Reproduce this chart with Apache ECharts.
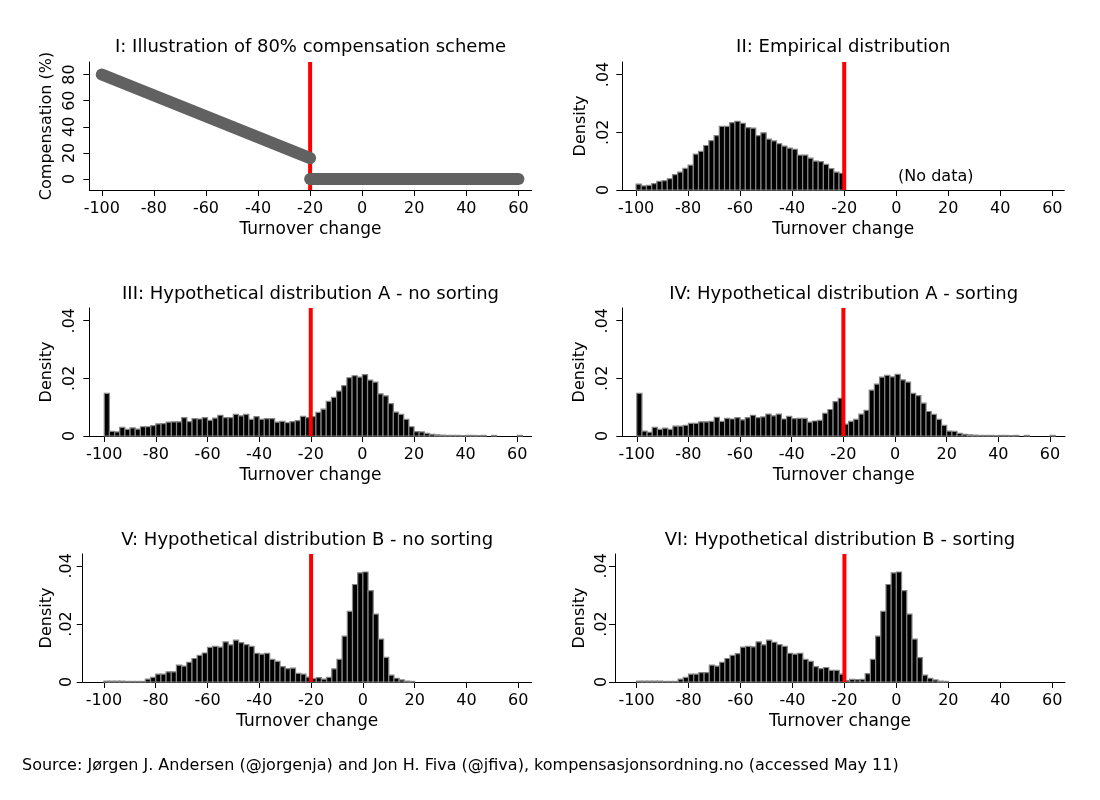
<!DOCTYPE html>
<html>
<head>
<meta charset="utf-8">
<title>Compensation scheme and turnover change</title>
<script src="https://cdn.jsdelivr.net/npm/echarts@6.0.0/dist/echarts.min.js"></script>
<style>
  html, body { margin: 0; padding: 0; background: #fff; }
  #main { width: 1100px; height: 800px; }
</style>
</head>
<body>
<div id="main"></div>
<script>
var FONT = 'DejaVu Sans';
var CUTOFF = -20;
var BIN_WIDTH = 2;

// tick labels
var xTicks = [-100, -80, -60, -40, -20, 0, 20, 40, 60];
var densityTicks = [0, 0.02, 0.04];
var compTicks = [0, 20, 40, 60, 80];

// left edge of every 2-point bin
var binStarts = [
    -100, -98, -96, -94, -92, -90, -88, -86, -84, -82,
    -80, -78, -76, -74, -72, -70, -68, -66, -64, -62,
    -60, -58, -56, -54, -52, -50, -48, -46, -44, -42,
    -40, -38, -36, -34, -32, -30, -28, -26, -24, -22,
    -20, -18, -16, -14, -12, -10, -8, -6, -4, -2,
    0, 2, 4, 6, 8, 10, 12, 14, 16, 18,
    20, 22, 24, 26, 28, 30, 32, 34, 36, 38,
    40, 42, 44, 46, 48, 50, 52, 54, 56, 58,
    60
];

// panel I: the compensation scheme
var schemeX = [-100, -20];
var schemeY = [80, 16];
var noCompX = [-20, 60];
var noCompY = [0, 0];

// panel II: empirical (only below the cutoff)
var empirical = [
    0.0020, 0.0014, 0.0016, 0.0022, 0.0030, 0.0032, 0.0039, 0.0053, 0.0062, 0.0075,
    0.0086, 0.0124, 0.0134, 0.0154, 0.0171, 0.0188, 0.0220, 0.0220, 0.0233, 0.0238,
    0.0231, 0.0216, 0.0214, 0.0188, 0.0198, 0.0176, 0.0170, 0.0160, 0.0152, 0.0145,
    0.0141, 0.0121, 0.0121, 0.0110, 0.0100, 0.0098, 0.0089, 0.0074, 0.0062, 0.0058
];

// panel III: distribution A, no sorting
var distANoSort = [
    0.0148, 0.0016, 0.0014, 0.0030, 0.0023, 0.0028, 0.0024, 0.0032, 0.0032, 0.0036,
    0.0042, 0.0043, 0.0048, 0.0049, 0.0049, 0.0064, 0.0050, 0.0060, 0.0059, 0.0064,
    0.0054, 0.0062, 0.0072, 0.0064, 0.0064, 0.0075, 0.0070, 0.0075, 0.0058, 0.0067,
    0.0058, 0.0060, 0.0060, 0.0048, 0.0051, 0.0046, 0.0050, 0.0053, 0.0068, 0.0064,
    0.0067, 0.0082, 0.0093, 0.0120, 0.0134, 0.0156, 0.0175, 0.0202, 0.0209, 0.0204,
    0.0213, 0.0194, 0.0187, 0.0146, 0.0139, 0.0112, 0.0083, 0.0075, 0.0058, 0.0032,
    0.0015, 0.0014, 0.0009, 0.0006, 0.0004, 0.0003, 0.0002, 0.0002, 0.0002, 0.0001,
    0.0002, 0.0002, 0.0001, 0.0002, 0, 0.0002, 0, 0, 0, 0,
    0.0002
];

// panel IV: distribution A, sorting
var distASort = [
    0.0148, 0.0017, 0.0013, 0.0030, 0.0023, 0.0027, 0.0023, 0.0034, 0.0034, 0.0037,
    0.0044, 0.0044, 0.0049, 0.0049, 0.0051, 0.0065, 0.0051, 0.0061, 0.0059, 0.0064,
    0.0056, 0.0064, 0.0072, 0.0064, 0.0066, 0.0076, 0.0070, 0.0076, 0.0059, 0.0068,
    0.0060, 0.0061, 0.0061, 0.0048, 0.0052, 0.0054, 0.0079, 0.0092, 0.0119, 0.0131,
    0.0041, 0.0051, 0.0058, 0.0076, 0.0089, 0.0159, 0.0180, 0.0204, 0.0210, 0.0205,
    0.0214, 0.0195, 0.0187, 0.0148, 0.0140, 0.0114, 0.0085, 0.0075, 0.0058, 0.0037,
    0.0017, 0.0016, 0.0009, 0.0006, 0.0004, 0.0003, 0.0002, 0.0002, 0.0002, 0.0001,
    0.0002, 0.0002, 0.0001, 0.0002, 0, 0.0002, 0, 0, 0, 0,
    0.0002
];

// panel V: distribution B, no sorting
var distBNoSort = [
    0.0003, 0.0003, 0.0003, 0.0003, 0.0002, 0.0002, 0.0002, 0.0002, 0.0010, 0.0016,
    0.0027, 0.0027, 0.0035, 0.0035, 0.0058, 0.0055, 0.0068, 0.0081, 0.0092, 0.0100,
    0.0119, 0.0123, 0.0120, 0.0138, 0.0128, 0.0144, 0.0136, 0.0129, 0.0123, 0.0099,
    0.0096, 0.0099, 0.0078, 0.0071, 0.0053, 0.0046, 0.0048, 0.0030, 0.0027, 0.0017,
    0.0012, 0.0015, 0.0010, 0.0016, 0.0045, 0.0078, 0.0158, 0.0243, 0.0336, 0.0376,
    0.0379, 0.0315, 0.0234, 0.0148, 0.0085, 0.0024, 0.0013, 0.0007, 0.0003, 0.0002,
    0, 0, 0, 0, 0, 0, 0, 0, 0, 0,
    0, 0, 0, 0, 0, 0, 0, 0, 0, 0,
    0
];

// panel VI: distribution B, sorting
var distBSort = [
    0.0003, 0.0003, 0.0003, 0.0003, 0.0003, 0.0002, 0.0002, 0.0002, 0.0010, 0.0016,
    0.0027, 0.0027, 0.0032, 0.0032, 0.0058, 0.0055, 0.0068, 0.0081, 0.0092, 0.0098,
    0.0120, 0.0123, 0.0121, 0.0138, 0.0128, 0.0144, 0.0137, 0.0129, 0.0123, 0.0099,
    0.0096, 0.0099, 0.0078, 0.0071, 0.0053, 0.0046, 0.0050, 0.0040, 0.0040, 0.0027,
    0.0005, 0.0009, 0.0008, 0.0009, 0.0029, 0.0078, 0.0158, 0.0243, 0.0336, 0.0376,
    0.0379, 0.0315, 0.0234, 0.0148, 0.0084, 0.0024, 0.0013, 0.0007, 0.0003, 0.0002,
    0, 0, 0, 0, 0, 0, 0, 0, 0, 0,
    0, 0, 0, 0, 0, 0, 0, 0, 0, 0,
    0
];

var noDataNote = { text: '(No data)', x: 15.2, y: 0.0046 };

var sourceText = 'Source: J\u00f8rgen J. Andersen (@jorgenja) and Jon H. Fiva (@jfiva), kompensasjonsordning.no (accessed May 11)';

// layout of the six panels
var panels = [
    { title: 'I: Illustration of 80% compensation scheme', box: [89.3, 62, 442.4, 128], titleY: 47,
      xr: [-104.8, 65.1], yr: [-8.4, 89.6], yName: 'Compensation (%)', yTicks: compTicks,
      labelMargin: 11, nameGap: 34, values: null },
    { title: 'II: Empirical distribution', box: [622.3, 62, 442, 128], titleY: 47,
      xr: [-105.3, 64.6], yr: [0, 0.0443], yName: 'Density', yTicks: densityTicks,
      labelMargin: 10, nameGap: 33, values: empirical },
    { title: 'III: Hypothetical distribution A - no sorting', box: [89.3, 308, 442.4, 128], titleY: 294,
      xr: [-105.8, 65.6], yr: [0, 0.0444], yName: 'Density', yTicks: densityTicks,
      labelMargin: 11, nameGap: 34, values: distANoSort },
    { title: 'IV: Hypothetical distribution A - sorting', box: [622.3, 308, 442.7, 128], titleY: 294,
      xr: [-105.6, 65.8], yr: [0, 0.0444], yName: 'Density', yTicks: densityTicks,
      labelMargin: 11, nameGap: 34, values: distASort },
    { title: 'V: Hypothetical distribution B - no sorting', box: [82.7, 554, 449, 128], titleY: 540,
      xr: [-108.2, 65.2], yr: [0, 0.0441], yName: 'Density', yTicks: densityTicks,
      labelMargin: 8, nameGap: 28, values: distBNoSort },
    { title: 'VI: Hypothetical distribution B - sorting', box: [615, 554, 450, 128], titleY: 540,
      xr: [-108.3, 64.9], yr: [0, 0.0441], yName: 'Density', yTicks: densityTicks,
      labelMargin: 5, nameGap: 27, values: distBSort }
];

function densityLabel(v) {
    if (v === 0) return '0';
    return String(+v.toFixed(2)).replace(/^0/, '');
}

function renderBin(params, api) {
    var h = api.value(1);
    if (!h) return null;
    var x0 = api.value(0);
    var top = api.coord([x0, h]);
    var base = api.coord([x0 + BIN_WIDTH, 0]);
    return {
        type: 'rect',
        shape: { x: top[0], y: top[1], width: base[0] - top[0], height: base[1] - top[1] },
        style: { fill: '#000', stroke: '#858585', lineWidth: 1.2 }
    };
}

var option = {
    backgroundColor: '#fff',
    animation: false,
    title: [],
    grid: [],
    xAxis: [],
    yAxis: [],
    series: []
};

panels.forEach(function (p, i) {
    option.title.push({
        text: p.title,
        left: p.box[0] + p.box[2] / 2,
        top: p.titleY - 10,
        textAlign: 'center',
        padding: 0,
        textStyle: { fontFamily: FONT, fontSize: 18, fontWeight: 'normal', color: '#000', lineHeight: 20 }
    });
    option.grid.push({ left: p.box[0], top: p.box[1], width: p.box[2], height: p.box[3], containLabel: false });
    option.xAxis.push({
        type: 'value', gridIndex: i, min: p.xr[0], max: p.xr[1],
        name: 'Turnover change', nameLocation: 'middle', nameGap: 31,
        nameTextStyle: { fontFamily: FONT, fontSize: 17, color: '#000' },
        axisLine: { show: true, onZero: false, lineStyle: { color: '#000', width: 1 } },
        axisTick: { show: true, length: 6, customValues: xTicks, lineStyle: { color: '#000' } },
        axisLabel: { customValues: xTicks, margin: 11, fontFamily: FONT, fontSize: 16, color: '#000' },
        splitLine: { show: false }
    });
    option.yAxis.push({
        type: 'value', gridIndex: i, min: p.yr[0], max: p.yr[1],
        name: p.yName, nameLocation: 'middle', nameGap: p.nameGap,
        nameTextStyle: { fontFamily: FONT, fontSize: 16, color: '#000' },
        axisLine: { show: true, onZero: false, lineStyle: { color: '#000', width: 1 } },
        axisTick: { show: true, length: 6, customValues: p.yTicks, lineStyle: { color: '#000' } },
        axisLabel: {
            customValues: p.yTicks, rotate: 90, margin: p.labelMargin,
            fontFamily: FONT, fontSize: 16, color: '#000',
            formatter: p.values ? densityLabel : '{value}'
        },
        splitLine: { show: false }
    });

    // the red cutoff line
    option.series.push({
        type: 'line', xAxisIndex: i, yAxisIndex: i, silent: true,
        symbol: 'none', z: p.values ? 5 : 1,
        lineStyle: { color: '#ff0000', width: 4 },
        data: [[CUTOFF, p.yr[0]], [CUTOFF, p.yr[1]]]
    });

    if (p.values) {
        option.series.push({
            type: 'custom', xAxisIndex: i, yAxisIndex: i, silent: true, z: 2,
            renderItem: renderBin,
            data: p.values.map(function (v, k) { return [binStarts[k], v]; })
        });
    }
});

// panel I lines
[[schemeX, schemeY], [noCompX, noCompY]].forEach(function (seg) {
    option.series.push({
        type: 'line', xAxisIndex: 0, yAxisIndex: 0, silent: true, z: 3,
        symbol: 'none',
        lineStyle: { color: '#616161', width: 12, cap: 'round' },
        data: seg[0].map(function (x, k) { return [x, seg[1][k]]; })
    });
});

// note in panel II
option.series.push({
    type: 'scatter', xAxisIndex: 1, yAxisIndex: 1, silent: true,
    symbolSize: 1, itemStyle: { color: 'rgba(0,0,0,0)' },
    label: { show: true, position: 'inside', formatter: noDataNote.text,
             fontFamily: FONT, fontSize: 16, color: '#000', opacity: 1 },
    data: [[noDataNote.x, noDataNote.y]]
});

option.title.push({
    text: sourceText, left: 22, top: 756, padding: 0,
    textStyle: { fontFamily: FONT, fontSize: 16, fontWeight: 'normal', color: '#000', lineHeight: 20 }
});

var myChart = echarts.init(document.getElementById('main'));
myChart.setOption(option);
</script>
</body>
</html>
